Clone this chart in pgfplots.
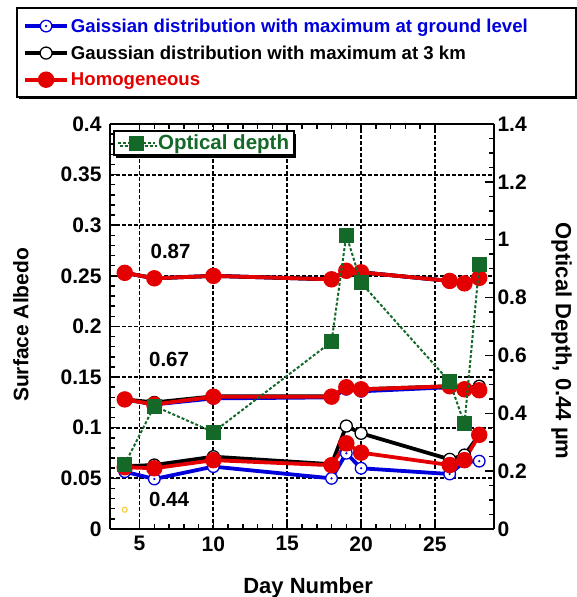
\documentclass[border=0pt]{standalone}
\usepackage{fontspec}
\setmainfont{Liberation Sans}
\usepackage{pgfplots}
\pgfplotsset{compat=1.18}
\usetikzlibrary{shadows}
\definecolor{myblue}{RGB}{0,0,220}
\definecolor{myred}{RGB}{228,0,0}
\definecolor{mygreen}{RGB}{20,105,40}
\definecolor{myyellow}{RGB}{245,200,40}
\pgfdeclareplotmark{circdot}{%
  \pgfpathcircle{\pgfpointorigin}{\pgfplotmarksize}%
  \pgfusepathqfillstroke
  \begin{pgfscope}%
  \pgfsetfillcolor{myblue}%
  \pgfpathcircle{\pgfpointorigin}{0.22\pgfplotmarksize}%
  \pgfusepathqfill
  \end{pgfscope}%
}
\pgfplotsset{
  longlegend/.style={legend image code/.code={%
    \draw[mark repeat=2,mark phase=2,##1] plot coordinates {(0pt,0pt) (21pt,0pt) (42pt,0pt)};}},
  midlegend/.style={legend image code/.code={%
    \draw[mark repeat=2,mark phase=2,##1] plot coordinates {(0pt,0pt) (18.5pt,0pt) (37pt,0pt)};}},
  blues/.style={myblue, line width=3.8pt, mark=circdot, mark size=5.8pt, mark options={fill=white, draw=myblue, line width=1.3pt}},
  blacks/.style={black, line width=3.8pt, mark=*, mark size=6pt, mark options={fill=white, draw=black, line width=1.3pt}},
  reds/.style={myred, line width=3.8pt, mark=*, mark size=6.3pt, mark options={fill=myred, draw=myred}},
}
\begin{document}
\begin{tikzpicture}[x=1pt,y=1pt]
\useasboundingbox (0pt,0pt) rectangle (577pt,597pt);
\begin{scope}
\clip (0pt,0pt) rectangle (577pt,597pt);
\draw[line width=2pt, fill=white, drop shadow={shadow xshift=2pt, shadow yshift=-2.5pt, fill=black, opacity=1}] (17pt,589pt) rectangle (576pt,500pt);
\end{scope}
\begin{axis}[
  name=main,
  at={(110pt,68pt)}, anchor=south west, scale only axis, width=384pt, height=405pt,
  xmin=3, xmax=29, ymin=0, ymax=0.4,
  xtick={5,10,15,20,25}, minor x tick num=4,
  ytick={0,0.05,0.1,0.15,0.2,0.25,0.3,0.35,0.4}, minor y tick num=4,
  axis y line*=left,
  grid=major, major grid style={black, line width=1.8pt, dash pattern=on 4pt off 2pt},
  axis line style={line width=2.5pt},
  every tick/.style={black, line width=1.5pt}, major tick length=9pt, minor tick length=5pt,
  tick align=inside,
  ticklabel style={font=\fontsize{21}{24}\selectfont\bfseries},
  /pgf/number format/assume math mode=true,
  yticklabel style={/pgf/number format/fixed, /pgf/number format/precision=2, xshift=-5pt},
  xticklabel style={yshift=-4pt},
  xlabel={Day Number}, ylabel={Surface Albedo},
  xlabel style={at={(axis description cs:0.516,-0.146)}, anchor=center, font=\fontsize{22}{26}\selectfont\bfseries},
  ylabel style={at={(axis description cs:-0.232,0.504)}, anchor=center, font=\fontsize{21}{25}\selectfont\bfseries},
  longlegend,
  legend style={at={(axis description cs:-0.2266,1.176)}, anchor=west, draw=none, fill=none,
    inner sep=0pt, row sep=8pt, font=\fontsize{18.6}{22}\selectfont\bfseries},
  legend cell align=left,
]
\addplot[blues] coordinates {(4,0.0566) (6,0.0494) (10,0.0616) (18,0.050) (19,0.0748) (20,0.060) (26,0.0543) (27,0.0665) (28,0.067)};
\addlegendentry{\textcolor{myblue}{Gaissian distribution with maximum at ground level}}
\addplot[blacks] coordinates {(4,0.062) (6,0.0632) (10,0.0714) (18,0.064) (19,0.1017) (20,0.0945) (26,0.0688) (27,0.073) (28,0.093)};
\addlegendentry{Gaussian distribution with maximum at 3 km}
\addplot[reds] coordinates {(4,0.061) (6,0.060) (10,0.068) (18,0.063) (19,0.0846) (20,0.0754) (26,0.0632) (27,0.068) (28,0.093)};
\addlegendentry{\textcolor{myred}{Homogeneous}}
% middle group (0.67)
\addplot[blues, forget plot] coordinates {(4,0.128) (6,0.123) (10,0.129) (18,0.130) (19,0.138) (20,0.136) (26,0.140) (27,0.138) (28,0.138)};
\addplot[blacks, forget plot] coordinates {(4,0.128) (6,0.125) (10,0.131) (18,0.131) (19,0.140) (20,0.138) (26,0.141) (27,0.139) (28,0.141)};
\addplot[reds, forget plot] coordinates {(4,0.128) (6,0.123) (10,0.1307) (18,0.1307) (19,0.140) (20,0.138) (26,0.141) (27,0.138) (28,0.137)};
% top group (0.87)
\addplot[blues, forget plot] coordinates {(4,0.253) (6,0.2476) (10,0.250) (18,0.2466) (19,0.255) (20,0.2535) (26,0.245) (27,0.2426) (28,0.248)};
\addplot[blacks, forget plot] coordinates {(4,0.253) (6,0.2476) (10,0.250) (18,0.2466) (19,0.255) (20,0.2535) (26,0.245) (27,0.2426) (28,0.248)};
\addplot[reds, forget plot] coordinates {(4,0.253) (6,0.2476) (10,0.250) (18,0.2466) (19,0.255) (20,0.2535) (26,0.245) (27,0.2426) (28,0.248)};
\addplot[only marks, mark=o, mark size=2.5pt, myyellow, line width=1pt, forget plot] coordinates {(4,0.019)};
\node[font=\fontsize{20.5}{24}\selectfont\bfseries] at (axis cs:7.1,0.274) {0.87};
\node[font=\fontsize{20.5}{24}\selectfont\bfseries] at (axis cs:7.0,0.167) {0.67};
\node[font=\fontsize{20.5}{24}\selectfont\bfseries] at (axis cs:7.0,0.029) {0.44};
\end{axis}
\begin{axis}[
  at={(main.south west)}, anchor=south west, scale only axis, width=384pt, height=405pt,
  xmin=3, xmax=29, ymin=0, ymax=1.4,
  axis x line=none, axis y line*=right,
  ytick={0,0.2,0.4,0.6,0.8,1,1.2,1.4}, minor y tick num=3,
  axis line style={line width=2.5pt},
  every tick/.style={black, line width=1.5pt}, major tick length=9pt, minor tick length=5pt,
  tick align=inside,
  ticklabel style={font=\fontsize{21}{24}\selectfont\bfseries},
  /pgf/number format/assume math mode=true,
  yticklabel style={/pgf/number format/fixed, /pgf/number format/precision=2},
  ylabel={Optical Depth, 0.44 µm},
  ylabel style={at={(axis description cs:1.176,0.464)}, anchor=center, rotate=180, font=\fontsize{22}{26}\selectfont\bfseries},
  midlegend,
  legend style={at={(axis description cs:0.008,0.985)}, anchor=north west, draw=black, line width=2pt, fill=white,
    inner xsep=3pt, inner ysep=2pt,
    drop shadow={shadow xshift=2pt, shadow yshift=-2.5pt, fill=black, opacity=1},
    font=\fontsize{20.5}{24}\selectfont\bfseries, text=mygreen},
]
\addplot[mygreen, line width=2pt, dash pattern=on 3pt off 2pt, mark=square*, mark size=6.5pt, mark options={solid, fill=mygreen}]
  coordinates {(4,0.224) (6,0.425) (10,0.335) (18,0.647) (19,1.016) (20,0.851) (26,0.509) (27,0.363) (28,0.913)};
\addlegendentry{Optical depth\hspace{6pt}}
\end{axis}
\end{tikzpicture}
\end{document}
